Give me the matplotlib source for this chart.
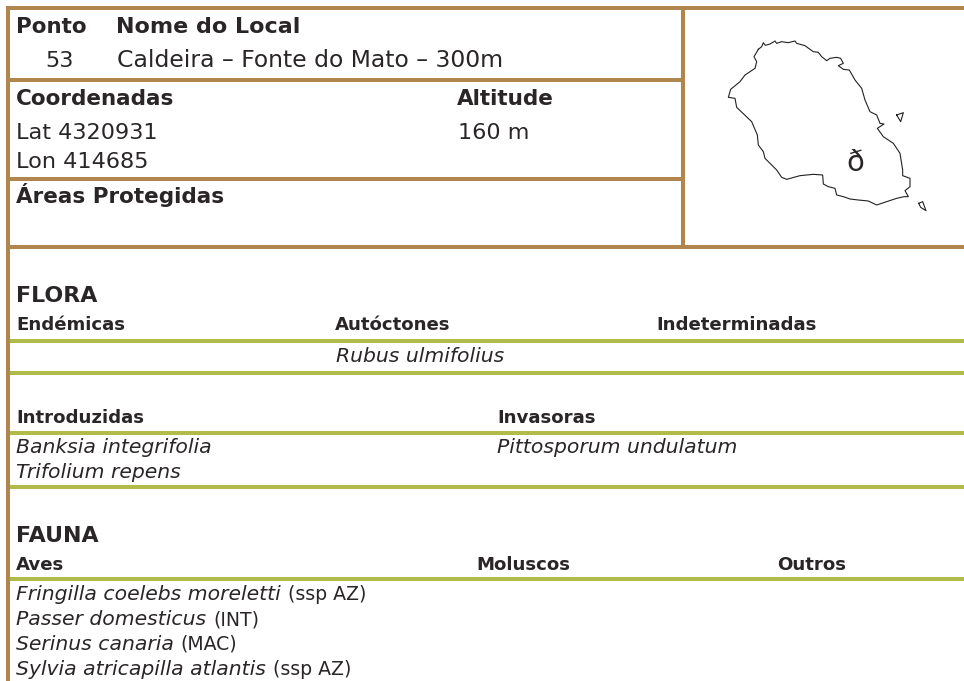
import matplotlib
matplotlib.use("Agg")
import matplotlib.pyplot as plt

FONT = "DejaVu Sans"
INK = "#2a2627"
BROWN = "#b0864e"
GREEN = "#b1bb4a"

SZ_HEAD_B = 15.5
SZ_SECTION = 15.9
SZ_HEAD_R = 16.1
SZ_NAME = 16.9
SZ_SUB = 13.1
SZ_SP = 14.7
SZ_STATUS = 13.6

# (x, baseline y, text, size, weight, style)
header_texts = [
    (16, 33, "Ponto", SZ_HEAD_B, "bold", "normal"),
    (116, 33, "Nome do Local", 16.0, "bold", "normal"),
    (45, 67, "53", SZ_HEAD_R, "normal", "normal"),
    (117, 67, "Caldeira – Fonte do Mato – 300m", SZ_NAME, "normal", "normal"),
    (16, 105, "Coordenadas", SZ_HEAD_B, "bold", "normal"),
    (457, 105, "Altitude", SZ_HEAD_B, "bold", "normal"),
    (16, 139, "Lat 4320931", SZ_HEAD_R, "normal", "normal"),
    (458, 139, "160 m", SZ_HEAD_R, "normal", "normal"),
    (16, 168, "Lon 414685", SZ_HEAD_R, "normal", "normal"),
    (16, 203, "Áreas Protegidas", SZ_HEAD_B, "bold", "normal"),
]
section_texts = [
    (16, 302, "FLORA", SZ_SECTION, "bold", "normal"),
    (16, 542, "FAUNA", SZ_SECTION, "bold", "normal"),
]
sub_texts = [
    (16, 330, "Endémicas", SZ_SUB, "bold", "normal"),
    (335, 330, "Autóctones", SZ_SUB, "bold", "normal"),
    (656, 330, "Indeterminadas", SZ_SUB, "bold", "normal"),
    (16, 423, "Introduzidas", SZ_SUB, "bold", "normal"),
    (497, 423, "Invasoras", SZ_SUB, "bold", "normal"),
    (16, 570, "Aves", SZ_SUB, "bold", "normal"),
    (476, 570, "Moluscos", SZ_SUB, "bold", "normal"),
    (777, 570, "Outros", SZ_SUB, "bold", "normal"),
]
species_texts = [
    (336, 362, "Rubus ulmifolius", SZ_SP, "normal", "italic"),
    (16, 453, "Banksia integrifolia", SZ_SP, "normal", "italic"),
    (497, 453, "Pittosporum undulatum", SZ_SP, "normal", "italic"),
    (16, 478, "Trifolium repens", SZ_SP, "normal", "italic"),
]
bird_names = ["Fringilla coelebs moreletti", "Passer domesticus", "Serinus canaria", "Sylvia atricapilla atlantis"]
bird_status = ["ssp AZ", "INT", "MAC", "ssp AZ"]
bird_baselines = [600, 625, 650, 675]

brown_h = [(8, 964, 8), (8, 683, 80), (8, 683, 179), (8, 964, 247)]
brown_v = [(8, 8, 681), (683, 8, 247)]
green_h = [341, 373, 433, 487, 579]

island_zoom = [(235,148),(245,140),(250,128),(256,136),(270,132),(285,123),(290,130),(305,125),(325,128),
    (345,123),(350,130),(375,137),(390,148),(400,155),(415,157),(425,170),(440,182),(450,175),(470,172),
    (482,175),(490,190),(475,197),(490,208),(508,210),(525,240),(545,265),(555,300),(570,335),(590,345),
    (600,370),(612,372),(592,385),(610,410),(640,430),(660,460),(668,510),(668,527),(690,535),(690,560),
    (675,572),(685,590),(672,590),(650,595),(620,605),(590,615),(565,603),(535,600),(510,597),(490,590),
    (470,585),(465,565),(445,560),(430,552),(428,525),(400,523),(360,527),(320,538),(305,532),(290,510),
    (255,475),(250,455),(235,435),(232,405),(215,365),(170,322),(165,295),(145,292),(152,268),(180,245),
    (195,225),(225,205),(230,185),(222,170),(235,148)]
islet1_zoom = [(650,345),(670,338),(662,365),(650,345)]
islet2_zoom = [(716,610),(728,605),(738,632),(722,622),(716,610)]

fig = plt.figure(figsize=(9.64, 6.81), dpi=100)
ax = fig.add_axes([0, 0, 1, 1])
ax.set_xlim(0, 964)
ax.set_ylim(681, 0)
ax.axis("off")

for x0, x1, y in brown_h:
    ax.plot([x0 - 2, x1], [y, y], color=BROWN, lw=2.9, solid_capstyle="butt")
for x, y0, y1 in brown_v:
    ax.plot([x, x], [y0 - 2, y1], color=BROWN, lw=2.9, solid_capstyle="butt")
for y in green_h:
    ax.plot([10, 964], [y, y], color=GREEN, lw=2.9, solid_capstyle="butt")

def zoom_xy(points):
    return [680 + p[0] / 3 for p in points], [p[1] / 3 for p in points]

for pts in (island_zoom, islet1_zoom, islet2_zoom):
    xs, ys = zoom_xy(pts)
    ax.plot(xs, ys, color="#222222", lw=0.8)

ax.text(855.5, 171, "ð", fontsize=21, family="DejaVu Sans", color=INK, ha="center", va="baseline")

for group in (header_texts, section_texts, sub_texts, species_texts):
    for x, y, s, size, weight, style in group:
        ax.text(x, y, s, fontsize=size, family=FONT,
                fontweight=weight, fontstyle=style, color=INK, va="baseline", ha="left")

renderer = fig.canvas.get_renderer()
for name, status, y in zip(bird_names, bird_status, bird_baselines):
    t = ax.text(16, y, name, fontsize=SZ_SP, family=FONT, fontstyle="italic", color=INK, va="baseline")
    bb = t.get_window_extent(renderer)
    ax.text(bb.x1 + 7, y, f"({status})", fontsize=SZ_STATUS, family=FONT, color=INK, va="baseline")

fig.savefig("out.png", dpi=100, facecolor="white")
